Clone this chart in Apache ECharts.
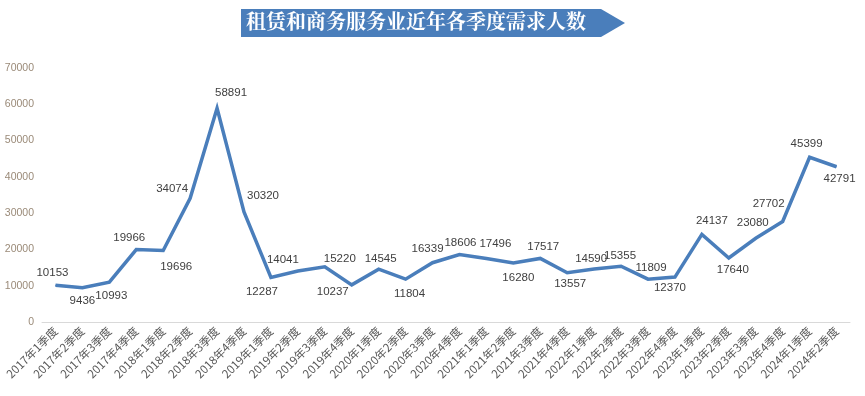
<!DOCTYPE html>
<html>
<head>
<meta charset="utf-8">
<script src="https://cdn.jsdelivr.net/npm/echarts@6/dist/echarts.min.js"></script>
<style>
html,body{margin:0;padding:0;background:#fff;}
#chart{width:865px;height:396px;}
</style>
</head>
<body>
<div id="chart"></div>
<script>
const titleText = '租赁和商务服务业近年各季度需求人数';
const categories = [
  '2017年1季度','2017年2季度','2017年3季度','2017年4季度',
  '2018年1季度','2018年2季度','2018年3季度','2018年4季度',
  '2019年1季度','2019年2季度','2019年3季度','2019年4季度',
  '2020年1季度','2020年2季度','2020年3季度','2020年4季度',
  '2021年1季度','2021年2季度','2021年3季度','2021年4季度',
  '2022年1季度','2022年2季度','2022年3季度','2022年4季度',
  '2023年1季度','2023年2季度','2023年3季度','2023年4季度',
  '2024年1季度','2024年2季度'
];
const values = [
  10153, 9436, 10993, 19966,
  19696, 34074, 58891, 30320,
  12287, 14041, 15220, 10237,
  14545, 11804, 16339, 18606,
  17496, 16280, 17517, 13557,
  14590, 15355, 11809, 12370,
  24137, 17640, 23080, 27702,
  45399, 42791
];
const yTicks = [0, 10000, 20000, 30000, 40000, 50000, 60000, 70000];

// label offsets (label centre relative to the point), as placed in the reference
const labelOffsets = [
  [-3,-12],[0,13],[2,14],[-7,-12],
  [13,16],[-18,-10],[14,-15],[19,-16],
  [-9,14],[-15,-11],[15,-8],[-19,7],
  [2,-10],[4,15],[-5,-14],[1,-12],
  [9,-15],[5,15],[3,-12],[3,11],
  [-3,-10],[-1,-10],[3,-11],[-5,11],
  [10,-14],[4,12],[-3,-15],[-14,-18],
  [-3,-13],[3,12]
];

const chart = echarts.init(document.getElementById('chart'), null, {renderer:'canvas'});
const lineColor = '#4a7ebb';

const seriesData = values.map((v, i) => ({
  value: v,
  label: { offset: labelOffsets[i] }
}));

chart.setOption({
  animation: false,
  backgroundColor: '#ffffff',
  graphic: [
    {
      type: 'polygon',
      shape: { points: [[241,9],[601,9],[625,23],[601,37],[241,37]] },
      style: { fill: '#4a7ebb' }
    },
    {
      type: 'text',
      left: 246, top: 11,
      style: {
        text: titleText,
        fill: '#ffffff',
        font: 'bold 20px "Noto Serif CJK SC", "Noto Sans CJK SC", serif'
      }
    }
  ],
  grid: { left: 42, right: 15, top: 68, bottom: 74 },
  xAxis: {
    type: 'category',
    data: categories,
    boundaryGap: true,
    axisLine: { show: true, lineStyle: { color: '#d9d9d9', width: 1 } },
    axisTick: { show: false },
    axisLabel: {
      interval: 0,
      rotate: 45,
      margin: 7,
      color: '#595959',
      fontSize: 11.5,
      fontFamily: '"Microsoft YaHei","Noto Sans CJK SC",sans-serif'
    }
  },
  yAxis: {
    type: 'value',
    min: yTicks[0],
    max: yTicks[yTicks.length - 1],
    interval: yTicks[1] - yTicks[0],
    axisLine: { show: false },
    axisTick: { show: false },
    splitLine: { show: false },
    axisLabel: {
      margin: 8,
      color: '#9a8a78',
      fontSize: 10.5,
      fontFamily: '"Liberation Sans", Arial, sans-serif',
      formatter: v => String(v)
    }
  },
  series: [{
    type: 'line',
    data: seriesData,
    symbol: 'circle',
    symbolSize: 1,
    showSymbol: true,
    itemStyle: { color: lineColor },
    lineStyle: { color: lineColor, width: 3.5, join: 'miter' },
    label: {
      show: true,
      position: 'inside',
      color: '#404040',
      fontSize: 11.5,
      fontFamily: '"Liberation Sans", Arial, sans-serif'
    }
  }]
});
</script>
</body>
</html>
